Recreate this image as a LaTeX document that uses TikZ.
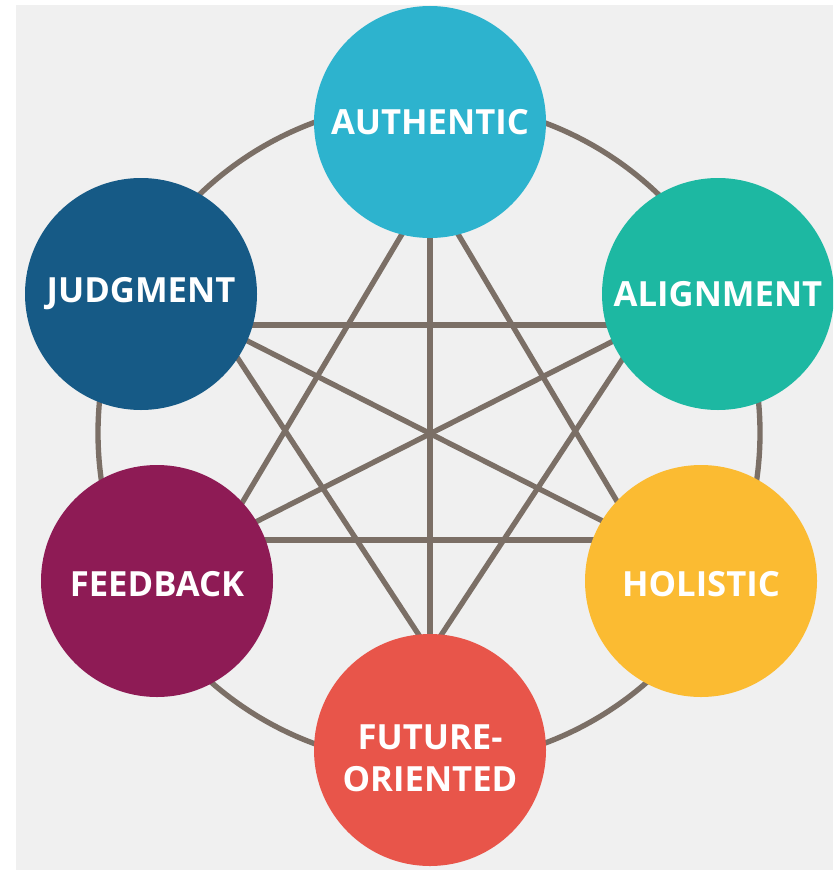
\documentclass[tikz,border=0pt]{standalone}
\usepackage{fontspec}
\setmainfont{Open Sans}
\usetikzlibrary{calc}
\pgfdeclarelayer{background}
\pgfsetlayers{background,main}
\definecolor{bgray}{HTML}{F0F0F0}
\definecolor{linec}{HTML}{7B6F66}
\definecolor{cAuth}{HTML}{2DB3CE}
\definecolor{cAlign}{HTML}{1DB8A2}
\definecolor{cJudg}{HTML}{165A86}
\definecolor{cFeed}{HTML}{8E1B55}
\definecolor{cHol}{HTML}{FBBB32}
\definecolor{cFut}{HTML}{E8554A}
\tikzset{
  bubble/.style={circle, minimum size=174pt, inner sep=0pt, fill=#1, text=white,
    font=\fontsize{26}{31.5}\selectfont\bfseries, align=center},
  link/.style={draw=linec, line width=4pt},
}
\begin{document}
\begin{tikzpicture}[x=0.75pt,y=-0.75pt]
\useasboundingbox (0,0) rectangle (833,870);
\clip (0,0) rectangle (833,870);
\node[bubble=cAuth]  (A)  at (430,122) {AUTHENTIC};
\node[bubble=cJudg]  (J)  at (141,294) {JUDGMENT};
\node[bubble=cAlign] (AL) at (718,294) {ALIGNMENT};
\node[bubble=cFeed]  (F)  at (157,581) {\raisebox{-2pt}[\height][\depth]{FEEDBACK}};
\node[bubble=cHol]   (H)  at (701,581) {\raisebox{-2pt}[\height][\depth]{HOLISTIC}};
\node[bubble=cFut]   (FU) at (430,750) {\raisebox{-6pt}[\height][\depth]{\parbox{160pt}{\centering FUTURE-\\ORIENTED}}};
\coordinate (vA)  at ($(A)+(0,65)$);
\coordinate (vFU) at ($(FU)+(0,-98)$);
\coordinate (vJ)  at ($(J)+(75,31)$);
\coordinate (vAL) at ($(AL)+(-73,31)$);
\coordinate (vF)  at ($(F)+(63,-41)$);
\coordinate (vH)  at ($(H)+(-61,-41)$);
\coordinate (ringc) at (429,433);
\begin{pgfonlayer}{background}
  \fill[white] (0,0) rectangle (833,870);
  \fill[bgray] (16,5) rectangle (833,870);
  \draw[link] (ringc) circle[radius=248.25pt];
  \draw[link] (vA) -- (vFU);
  \draw[link] (vJ) -- (vH);
  \draw[link] (vAL) -- (vF);
  \draw[link] (vA) -- (vF);
  \draw[link] (vA) -- (vH);
  \draw[link] (vJ) -- (vAL);
  \draw[link] (vF) -- (vH);
  \draw[link] (vJ) -- (vFU);
  \draw[link] (vAL) -- (vFU);
\end{pgfonlayer}
\end{tikzpicture}
\end{document}
